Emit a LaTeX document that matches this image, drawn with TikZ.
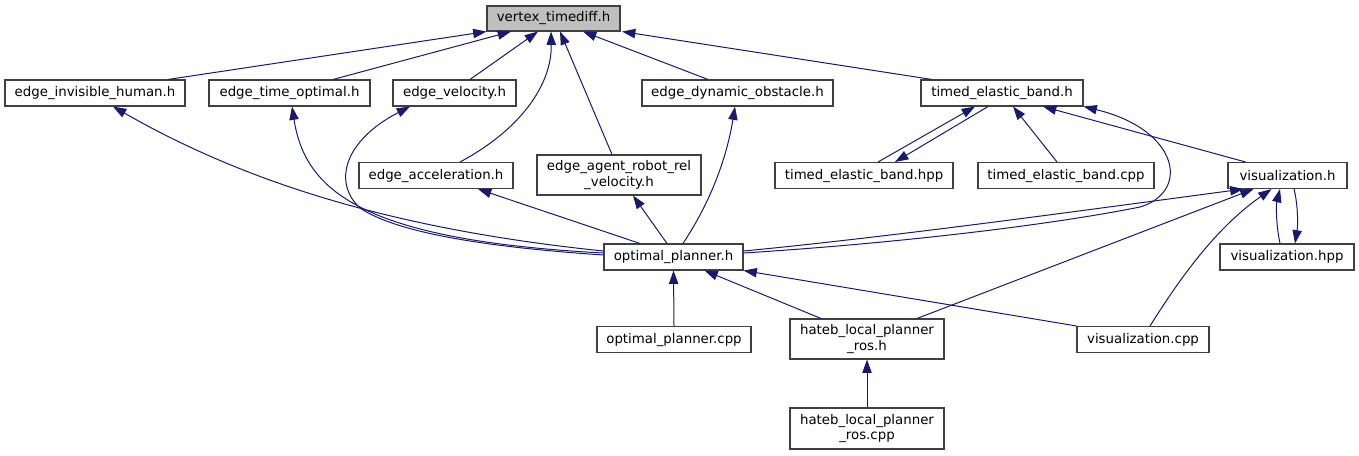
\documentclass[tikz,border=0pt]{standalone}
\usepackage{fontspec}
\setmainfont{DejaVu Sans}
\definecolor{doxblue}{RGB}{25,25,112}
\definecolor{doxframe}{RGB}{64,64,64}
\definecolor{doxroot}{RGB}{191,191,191}
\usetikzlibrary{arrows.meta,calc}

\begin{document}
\begin{tikzpicture}[x=0.75pt,y=-0.75pt,
    every node/.style={font=\fontsize{10}{11.5}\selectfont},
    file/.style={draw=doxframe,line width=0.8pt,fill=white,inner sep=0pt,
                 minimum height=19.5pt,align=center},
    incl/.style={doxblue,line width=0.75pt,-{Triangle[length=10pt,width=7pt]}}]
  \useasboundingbox (0,0) rectangle (1359,455);

  %% Row 0: the header itself
  \node[file,fill=doxroot,minimum width=99.75pt,minimum height=18.75pt] (vertex) at (553.5,18.5) {vertex\_timediff.h};

  %% Row 1: direct includers
  \node[file,minimum width=135pt]    (invhuman) at (95,93)    {edge\_invisible\_human.h};
  \node[file,minimum width=120.75pt] (timeopt)  at (289.5,93) {edge\_time\_optimal.h};
  \node[file,minimum width=92.25pt]  (velocity) at (454.5,93) {edge\_velocity.h};
  \node[file,minimum width=143.25pt] (dynobs)   at (737.5,93) {edge\_dynamic\_obstacle.h};
  \node[file,minimum width=121.5pt]  (teb)      at (1002,93)  {timed\_elastic\_band.h};

  %% Row 2
  \node[file,minimum width=115.5pt] (accel)    at (436,175.5)  {edge\_acceleration.h};
  \node[file,minimum width=123pt,minimum height=30pt] (agentrel) at (619,175) {edge\_agent\_robot\_rel\\\_velocity.h};
  \node[file,minimum width=133.5pt] (tebhpp)   at (864,175.5)  {timed\_elastic\_band.hpp};
  \node[file,minimum width=132pt]   (tebcpp)   at (1066,175.5) {timed\_elastic\_band.cpp};
  \node[file,minimum width=89.25pt] (vis)      at (1287.5,175.5) {visualization.h};

  %% Row 3
  \node[file,minimum width=104.25pt] (planner) at (673.5,257) {optimal\_planner.h};
  \node[file,minimum width=100.5pt]  (vishpp)  at (1287,257)  {visualization.hpp};

  %% Row 4 and 5
  \node[file,minimum width=115.5pt] (plannercpp) at (674,339.5) {optimal\_planner.cpp};
  \node[file,minimum width=115.5pt,minimum height=30pt] (rosh) at (867,339) {hateb\_local\_planner\\\_ros.h};
  \node[file,minimum width=99pt]    (viscpp)     at (1143,339.5) {visualization.cpp};
  \node[file,minimum width=115.5pt,minimum height=30.75pt] (roscpp) at (867,428.5) {hateb\_local\_planner\\\_ros.cpp};

  %% includes of vertex_timediff.h
  \draw[incl] ($(invhuman.north)+(73,0)$) -- (vertex.south west);
  \draw[incl] ($(timeopt.north)+(43.5,0)$) -- ($(vertex.south)+(-42.5,0)$);
  \draw[incl] ($(velocity.north)+(15.5,0)$) -- ($(vertex.south)+(-15.5,0)$);
  \draw[incl] ($(accel.north)+(24,0)$) .. controls (520,130) and (552,85) .. ($(vertex.south)+(-2.5,0)$);
  \draw[incl] ($(agentrel.north)+(-7,0)$) -- ($(vertex.south)+(6.5,0)$);
  \draw[incl] ($(dynobs.north)+(-29.5,0)$) -- ($(vertex.south)+(29.5,0)$);
  \draw[incl] ($(teb.north)+(-70,0)$) -- ($(vertex.south)+(68.5,0)$);

  %% timed_elastic_band.h
  \draw[incl] ($(tebhpp.north)+(14,0)$) -- ($(teb.south)+(-27,0)$);
  \draw[incl] ($(teb.south)+(-14,0)$) -- ($(tebhpp.north)+(31,0)$);
  \draw[incl] ($(tebcpp.north)+(-9,0)$) -- ($(teb.south)+(11,0)$);
  \draw[incl] ($(vis.north)+(-42,0)$) -- ($(teb.south)+(41,0)$);
  \draw[incl] ($(planner.east)+(0,-4)$) .. controls (900,243) and (1050,225) .. (1140,207)
        .. controls (1190,192) and (1180,130) .. (teb.south east);

  %% visualization.h
  \draw[incl] ($(planner.east)+(0,-6)$) .. controls (900,236) and (1100,208) .. ($(vis.south)+(-44,0)$);
  \draw[incl] ($(rosh.north)+(50,0)$) -- ($(vis.south)+(-34,0)$);
  \draw[incl] ($(viscpp.north)+(7,0)$) .. controls (1185,270) and (1220,225) .. ($(vis.south)+(-16,0)$);
  \draw[incl] ($(vishpp.north)+(-7,0)$) .. controls (1276,225) and (1276,205) .. ($(vis.south)+(-7.5,0)$);
  \draw[incl] ($(vis.south)+(6.5,0)$) .. controls (1298,205) and (1298,225) .. ($(vishpp.north)+(8,0)$);

  %% optimal_planner.h
  \draw[incl] ($(planner.west)+(0,-6)$) .. controls (400,230) and (250,185) .. ($(invhuman.south)+(18,0)$);
  \draw[incl] ($(planner.west)+(0,-4)$) .. controls (360,240) and (305,190) .. ($(timeopt.south)+(2.5,0)$);
  \draw[incl] ($(planner.west)+(0,-2)$) .. controls (500,248) and (400,235) .. (360,208)
        .. controls (332,182) and (345,140) .. ($(velocity.south)+(-44.5,0)$);
  \draw[incl] ($(planner.north)+(-33.5,0)$) -- ($(accel.south)+(42,0)$);
  \draw[incl] ($(planner.north)+(-6.5,0)$) -- ($(agentrel.south)+(14,0)$);
  \draw[incl] ($(planner.north)+(9.5,0)$) .. controls (715,195) and (728,150) .. ($(dynobs.south)+(-2.5,0)$);
  \draw[incl] (plannercpp.north) -- (planner.south);
  \draw[incl] ($(rosh.north)+(-46,0)$) -- ($(planner.south)+(31,0)$);
  \draw[incl] (viscpp.north west) -- (planner.south east);

  %% hateb_local_planner_ros.h
  \draw[incl] (roscpp.north) -- (rosh.south);
\end{tikzpicture}
\end{document}
